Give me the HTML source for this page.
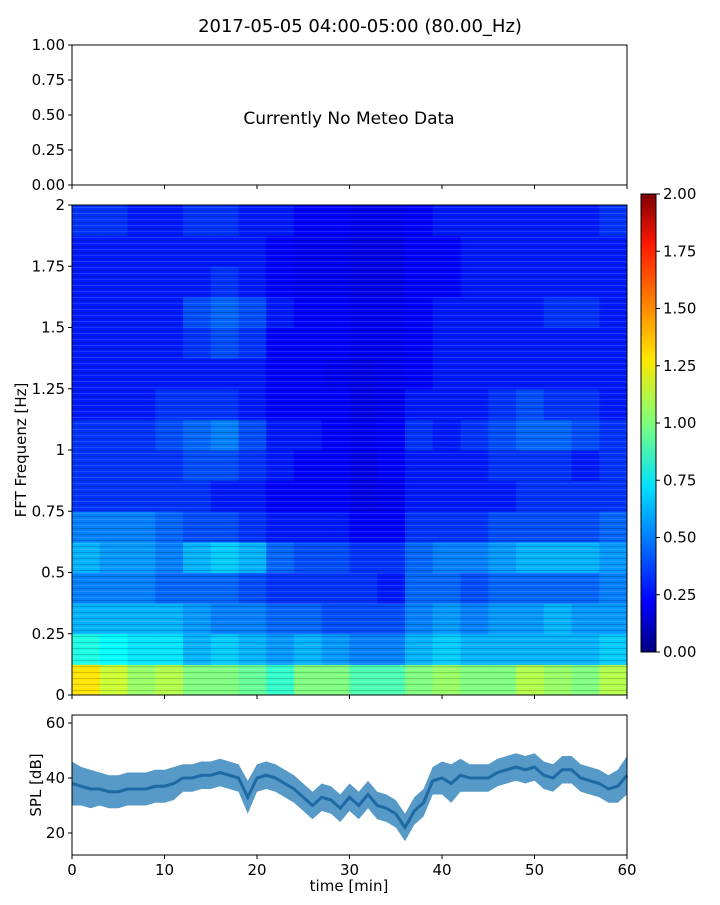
<!DOCTYPE html>
<html><head><meta charset="utf-8">
<style>
body{margin:0;background:#fff;font-family:"Liberation Sans","DejaVu Sans",sans-serif;}
svg text{font-family:"DejaVu Sans","Liberation Sans",sans-serif;fill:#000;}
</style></head>
<body>
<svg id="chart" width="720" height="900" xmlns="http://www.w3.org/2000/svg">
<defs>
<pattern id="stripes" width="8" height="6" patternUnits="userSpaceOnUse">
<rect x="0" y="0" width="8" height="1" fill="#000" opacity="0.18"/>
<rect x="0" y="3" width="8" height="1" fill="#fff" opacity="0.12"/>
</pattern>
<linearGradient id="jetgrad" x1="0" y1="1" x2="0" y2="0">
<stop offset="0" stop-color="#00007f"/><stop offset="0.11" stop-color="#0000ff"/>
<stop offset="0.36" stop-color="#00e0ff"/><stop offset="0.5" stop-color="#7dff7a"/>
<stop offset="0.64" stop-color="#ffe600"/><stop offset="0.89" stop-color="#ff1800"/>
<stop offset="1" stop-color="#7f0000"/>
</linearGradient>
</defs>
<text x="360" y="32" font-size="18" text-anchor="middle">2017-05-05 04:00-05:00 (80.00_Hz)</text>
<g id="topPanel"></g>
<g id="spec"></g>
<g id="cbar"></g>
<g id="spl"></g>
</svg>
<script>
// time axis
const timeTicks=[0,10,20,30,40,50,60];
// meteo panel ticks
const meteoTicks=["0.00","0.25","0.50","0.75","1.00"];
// spectrogram freq ticks
const freqTicks=[0,0.25,0.5,0.75,1,1.25,1.5,1.75,2];
const freqTickLabels=["0","0.25","0.5","0.75","1","1.25","1.5","1.75","2"];
// colorbar ticks
const cbarTicks=["0.00","0.25","0.50","0.75","1.00","1.25","1.50","1.75","2.00"];
// spectrogram grid: rows = frequency bands of 0.125 Hz (bottom first), cols = 3 min bins
const specRows=[
[1.3,1.15,1.05,1.1,1.0,1.0,0.95,0.85,1.0,1.0,0.9,0.9,1.0,1.05,1.0,1.0,1.1,1.05,1.0,1.1],
[0.8,0.75,0.7,0.7,0.6,0.65,0.6,0.55,0.6,0.55,0.5,0.5,0.6,0.65,0.6,0.6,0.6,0.6,0.6,0.65],
[0.6,0.6,0.6,0.6,0.55,0.5,0.5,0.45,0.45,0.4,0.4,0.4,0.5,0.55,0.5,0.55,0.55,0.6,0.55,0.55],
[0.5,0.5,0.5,0.45,0.45,0.45,0.4,0.35,0.35,0.35,0.35,0.3,0.45,0.45,0.4,0.45,0.45,0.45,0.45,0.5],
[0.6,0.55,0.55,0.5,0.6,0.65,0.6,0.45,0.4,0.4,0.35,0.35,0.45,0.5,0.5,0.55,0.6,0.6,0.6,0.55],
[0.5,0.5,0.5,0.45,0.4,0.4,0.35,0.3,0.3,0.3,0.25,0.25,0.35,0.35,0.35,0.4,0.4,0.4,0.4,0.45],
[0.35,0.35,0.35,0.35,0.35,0.3,0.3,0.25,0.25,0.25,0.2,0.22,0.3,0.3,0.3,0.3,0.35,0.35,0.35,0.35],
[0.35,0.35,0.35,0.35,0.4,0.4,0.35,0.3,0.25,0.25,0.2,0.25,0.3,0.3,0.3,0.35,0.35,0.35,0.3,0.35],
[0.35,0.35,0.35,0.4,0.45,0.5,0.4,0.3,0.3,0.25,0.22,0.25,0.35,0.3,0.35,0.4,0.45,0.45,0.4,0.35],
[0.3,0.3,0.3,0.35,0.35,0.35,0.3,0.25,0.25,0.25,0.2,0.22,0.3,0.3,0.3,0.35,0.4,0.35,0.35,0.3],
[0.3,0.3,0.3,0.3,0.3,0.3,0.3,0.25,0.25,0.22,0.2,0.22,0.25,0.3,0.3,0.3,0.3,0.3,0.3,0.3],
[0.3,0.3,0.3,0.3,0.35,0.4,0.35,0.25,0.25,0.25,0.22,0.22,0.25,0.3,0.3,0.3,0.3,0.3,0.3,0.3],
[0.3,0.3,0.3,0.3,0.4,0.45,0.4,0.3,0.25,0.25,0.22,0.22,0.25,0.3,0.3,0.3,0.3,0.35,0.35,0.3],
[0.3,0.3,0.3,0.3,0.3,0.35,0.3,0.25,0.22,0.22,0.2,0.2,0.25,0.25,0.3,0.3,0.3,0.3,0.3,0.3],
[0.3,0.3,0.3,0.3,0.3,0.3,0.3,0.25,0.22,0.22,0.2,0.2,0.25,0.25,0.3,0.3,0.3,0.3,0.3,0.3],
[0.35,0.35,0.3,0.3,0.35,0.35,0.3,0.3,0.25,0.25,0.22,0.22,0.25,0.3,0.3,0.3,0.3,0.3,0.3,0.35]];
// SPL per minute (mean) and spread
const splTimes=[0,1,2,3,4,5,6,7,8,9,10,11,12,13,14,15,16,17,18,19,20,21,22,23,24,25,26,27,28,29,30,31,32,33,34,35,36,37,38,39,40,41,42,43,44,45,46,47,48,49,50,51,52,53,54,55,56,57,58,59,60];
const splMean=[38,37,36,36,35,35,36,36,36,37,37,38,40,40,41,41,42,41,40,33,40,41,40,38,36,33,30,33,32,29,33,30,34,30,29,27,22,28,31,39,40,38,41,40,40,40,42,43,44,43,44,41,40,43,43,40,39,38,36,37,41];
const splSpread=[8,7,7,6,6,6,6,6,6,6,6,6,5,5,5,5,5,5,5,6,5,5,5,5,5,5,5,5,5,5,5,5,5,5,5,5,5,5,5,5,6,7,6,5,5,5,5,5,5,5,5,5,5,5,5,5,5,5,5,6,7];

const NS="http://www.w3.org/2000/svg";
function mk(tag,attrs,parent,txt){const e=document.createElementNS(NS,tag);for(const k in attrs)e.setAttribute(k,attrs[k]);if(txt!==undefined)e.textContent=txt;parent.appendChild(e);return e;}
const X0=72,X1=627;
const xScale=t=>X0+(t/60)*(X1-X0);
function jet(v){v=Math.max(0,Math.min(1,v));
 const r=Math.max(0,Math.min(1,1.5-Math.abs(4*v-3))),g=Math.max(0,Math.min(1,1.5-Math.abs(4*v-2))),b=Math.max(0,Math.min(1,1.5-Math.abs(4*v-1)));
 return `rgb(${Math.round(r*255)},${Math.round(g*255)},${Math.round(b*255)})`;}
function xTicks(g,yb,labels){timeTicks.forEach(t=>{const x=xScale(t);mk('line',{x1:x,x2:x,y1:yb,y2:yb+4,stroke:'#000'},g);
 if(labels){const l=mk('text',{x:x,y:yb+20,'font-size':15,'text-anchor':'middle'},g,String(t));}});}

// top panel
const topG=document.getElementById('topPanel');
const tY=v=>185-v*140;
mk('rect',{x:X0,y:45,width:X1-X0,height:140,fill:'none',stroke:'#000','stroke-width':1},topG);
meteoTicks.forEach(s=>{const y=tY(parseFloat(s));mk('line',{x1:X0-4,x2:X0,y1:y,y2:y,stroke:'#000'},topG);
 const l=mk('text',{x:X0-7,y:y+5,'font-size':15,'text-anchor':'end'},topG,s);});
xTicks(topG,185,false);
const nm=mk('text',{x:349,y:124,'font-size':17,'text-anchor':'middle'},topG,'Currently No Meteo Data');


// spectrogram
const spec=document.getElementById('spec');
const fY=f=>695-f*245;
const nR=specRows.length,nC=specRows[0].length;
specRows.forEach((row,ri)=>{row.forEach((v,ci)=>{
 const x=xScale(ci*60/nC),x2=xScale((ci+1)*60/nC),y=fY((ri+1)*2/nR),y2=fY(ri*2/nR);
 const r=mk('rect',{x:x,y:y,width:x2-x+0.5,height:y2-y+0.5,fill:jet(v/2)},spec);
 
 
});});
mk('rect',{x:X0,y:205,width:X1-X0,height:490,fill:'url(#stripes)'},spec);
mk('rect',{x:X0,y:205,width:X1-X0,height:490,fill:'none',stroke:'#000'},spec);
freqTicks.forEach((f,i)=>{const y=fY(f);mk('line',{x1:X0-4,x2:X0,y1:y,y2:y,stroke:'#000'},spec);
 const l=mk('text',{x:X0-7,y:y+5,'font-size':15,'text-anchor':'end'},spec,freqTickLabels[i]);});
xTicks(spec,695,false);
const yl=mk('text',{x:26,y:450,'font-size':15,'text-anchor':'middle',transform:'rotate(-90 26 450)'},spec,'FFT Frequenz [Hz]');


// colorbar
const cb=document.getElementById('cbar');
const cY=v=>652-v/2*458;
mk('rect',{x:641,y:194,width:15,height:458,fill:'url(#jetgrad)',stroke:'#000'},cb);
cbarTicks.forEach(s=>{const y=cY(parseFloat(s));mk('line',{x1:656,x2:660,y1:y,y2:y,stroke:'#000'},cb);
 const l=mk('text',{x:663,y:y+5,'font-size':15},cb,s);});

// SPL panel
const spl=document.getElementById('spl');
const sY=v=>778-(v-40)*55/20;
let up='',dn='',ln='';
splTimes.forEach((t,i)=>{up+=(i?'L':'M')+xScale(t)+','+sY(splMean[i]+splSpread[i]);ln+=(i?'L':'M')+xScale(t)+','+sY(splMean[i]);});
for(let i=splTimes.length-1;i>=0;i--)dn+='L'+xScale(splTimes[i])+','+sY(splMean[i]-splSpread[i]);
const band=mk('path',{d:up+dn+'Z',fill:'#1f77b4',opacity:0.75},spl);

const line=mk('path',{d:ln,fill:'none',stroke:'#1f6aa5','stroke-width':3},spl);

mk('rect',{x:X0,y:715,width:X1-X0,height:140,fill:'none',stroke:'#000'},spl);
[20,40,60].forEach(v=>{const y=sY(v);mk('line',{x1:X0-4,x2:X0,y1:y,y2:y,stroke:'#000'},spl);
 const l=mk('text',{x:X0-7,y:y+5,'font-size':15,'text-anchor':'end'},spl,String(v));});
xTicks(spl,855,true);
const xl=mk('text',{x:349,y:891,'font-size':15,'text-anchor':'middle'},spl,'time [min]');

const sl=mk('text',{x:41,y:785,'font-size':15,'text-anchor':'middle',transform:'rotate(-90 41 785)'},spl,'SPL [dB]');

</script>
</body></html>
